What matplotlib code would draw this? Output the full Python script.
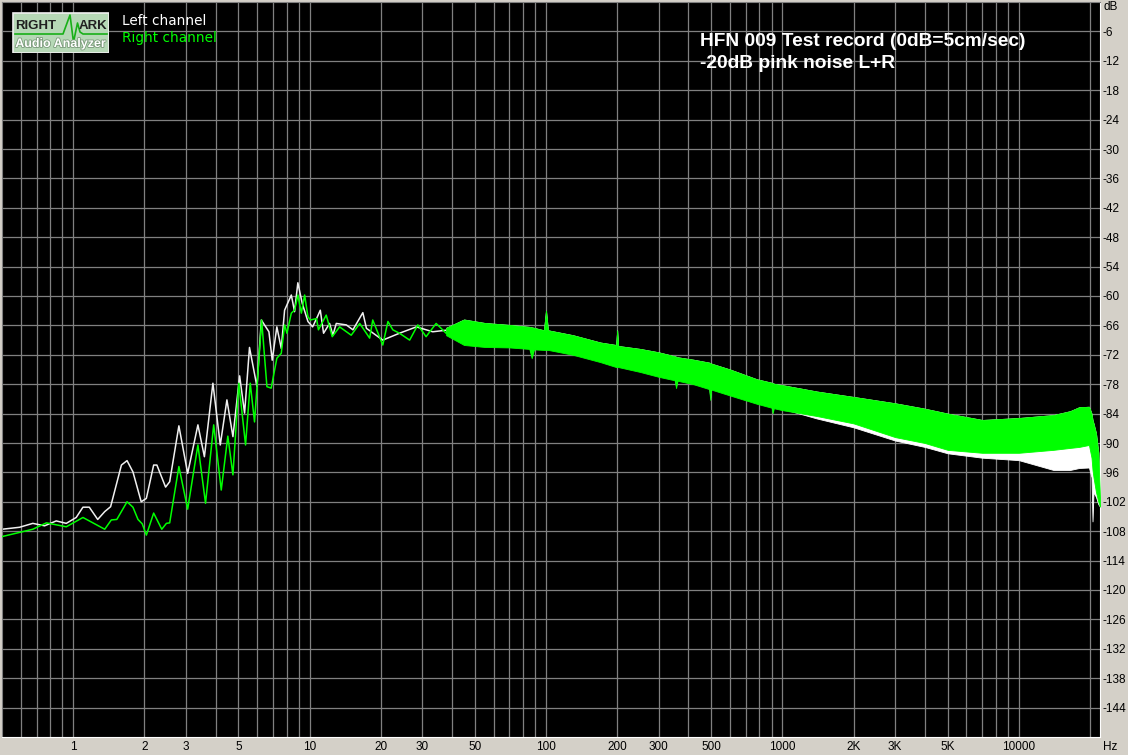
import numpy as np
import matplotlib
matplotlib.use('Agg')
import matplotlib.pyplot as plt
from matplotlib.ticker import NullLocator
from matplotlib import patheffects
from matplotlib.patches import Rectangle

plt.rcParams['font.family'] = ['Liberation Sans', 'DejaVu Sans']

# low frequency part, read point by point (Hz, dB)
left_f = [0.5, 0.593, 0.675, 0.757, 0.848, 0.935, 1.03, 1.10, 1.17, 1.27, 1.36, 1.44, 1.60, 1.69,
          1.79, 1.94, 2.04, 2.19, 2.26, 2.46, 2.56, 2.80, 3.05, 3.37, 3.59, 3.90, 4.19, 4.47, 4.74,
          5.06, 5.31, 5.57, 5.99, 6.25, 6.73, 6.95, 7.27, 7.59, 7.84, 8.37, 8.64, 8.92, 9.31, 9.84,
          10.3, 10.8, 11.1, 11.46, 12.15, 12.55, 12.97, 14.3, 15.25, 16.8, 17.4, 20.4, 24.0, 28.3,
          33.2, 39.1]
left_db = [-107.6, -107.2, -106.4, -106.9, -105.9, -106.4, -105.2, -103.1, -103.1, -105.6, -104.0,
           -103.0, -94.5, -93.6, -95.9, -102.0, -101.3, -94.5, -94.5, -99.0, -97.9, -86.5, -96.2,
           -86.3, -92.8, -77.8, -90.4, -81.2, -88.7, -76.3, -83.9, -70.5, -78.5, -64.9, -67.3, -73.1,
           -66.3, -70.7, -62.9, -59.8, -63.2, -57.3, -61.5, -65.2, -66.3, -64.2, -62.9, -67.6, -65.6,
           -68.0, -65.6, -65.9, -66.9, -63.4, -66.6, -69.0, -67.6, -66.3, -67.3, -66.9]

right_f = [0.5, 0.675, 0.770, 0.935, 1.10, 1.36, 1.45, 1.53, 1.69, 1.79, 1.88, 1.96, 2.04, 2.19,
           2.37, 2.48, 2.56, 2.80, 3.05, 3.37, 3.63, 3.93, 4.23, 4.51, 4.74, 5.02, 5.36, 5.61, 5.85,
           6.27, 6.60, 6.88, 7.27, 7.59, 7.84, 8.02, 8.37, 8.64, 8.92, 9.23, 9.53, 9.84, 10.07, 10.7,
           10.9, 11.76, 12.47, 13.4, 15.0, 16.3, 17.95, 18.5, 20.4, 21.45, 22.5, 24.0, 26.5, 28.7,
           31.1, 34.3, 37.8]
right_db = [-109.1, -107.6, -106.3, -107.1, -105.2, -107.6, -105.7, -105.6, -102.0, -103.1, -105.6,
            -106.5, -108.8, -104.3, -107.6, -106.4, -106.3, -94.8, -103.5, -90.4, -102.3, -86.3,
            -99.6, -88.6, -96.5, -77.8, -90.4, -77.8, -85.7, -64.9, -78.5, -78.8, -72.7, -71.7,
            -65.9, -67.6, -63.5, -62.9, -59.8, -63.5, -59.8, -64.2, -64.9, -64.6, -66.9, -63.9,
            -68.3, -66.3, -68.0, -65.6, -68.6, -64.9, -70.0, -65.2, -66.9, -67.6, -69.0, -65.9,
            -68.3, -65.6, -67.6]

# dense noise band above ~40 Hz, read as envelopes (Hz, dB)
band_f = [37.8, 45, 55, 70, 85, 87, 89, 98, 100, 102,
          130, 170, 198, 200, 202, 250, 300, 350, 355, 360,
          420, 490, 495, 500, 600, 780, 900, 910, 920, 1000,
          1400, 2000, 3000, 4000, 5000, 7000, 10000, 14000, 16500, 18000,
          19800, 20300, 20500, 20700, 21200, 21700, 22050]
right_top = [-66.5, -64.8, -65.5, -65.9, -66.3, -66.4, -66.5, -67.0, -63.0, -67.0,
             -68.0, -69.5, -70.0, -67.0, -70.2, -70.8, -71.5, -72.3, -72.4, -72.5,
             -73.0, -73.6, -73.7, -73.8, -75.0, -77.0, -77.7, -77.8, -77.9, -78.2,
             -79.5, -80.6, -81.9, -83.0, -84.0, -85.3, -84.9, -84.3, -83.5, -82.7,
             -82.6, -84.0, -85.3, -86.0, -88.0, -92.0, -101.5]
right_bot = [-68.0, -70.0, -70.4, -70.5, -70.8, -72.7, -70.9, -71.0, -71.0, -71.0,
             -72.0, -73.5, -74.5, -74.5, -74.5, -75.5, -76.5, -77.2, -78.8, -77.3,
             -78.0, -79.0, -81.2, -79.1, -80.3, -82.0, -82.8, -83.9, -82.9, -83.3,
             -84.5, -86.0, -88.8, -90.0, -91.4, -92.0, -92.0, -91.4, -91.0, -90.8,
             -90.4, -93.0, -95.5, -97.0, -100.0, -102.0, -103.0]
left_bot = [-67.5, -69.5, -69.9, -70.0, -70.3, -72.2, -70.4, -70.5, -70.5, -70.5,
            -71.5, -73.0, -74.0, -74.0, -74.0, -75.0, -76.0, -76.7, -78.3, -76.8,
            -77.5, -78.5, -80.7, -78.6, -79.8, -81.5, -82.3, -83.4, -82.4, -83.0,
            -85.0, -86.8, -89.5, -90.8, -92.1, -93.0, -93.5, -95.5, -95.5, -95.1,
            -95.0, -97.0, -106.0, -100.0, -101.0, -102.5, -103.0]

tick_pos = [1, 2, 3, 5, 10, 20, 30, 50, 100, 200, 300, 500, 1000, 2000, 3000, 5000, 10000]
tick_lab = ['1', '2', '3', '5', '10', '20', '30', '50', '100', '200', '300', '500', '1000',
            '2K', '3K', '5K', '10000']
db_ticks = list(range(-144, 0, 6))

W, H = 1128, 755
grid_c = '#808080'
green = '#00ff00'

fig = plt.figure(figsize=(W / 100, H / 100), dpi=100, facecolor='#d4d0c8')
ax = fig.add_axes([2 / W, 18 / H, 1098 / W, 735 / H], facecolor='black')
ax.set_xscale('log')
ax.set_xlim(0.5, 22050)
ax.set_ylim(-150, 0)

grid_x = [m * 10.0 ** e for e in range(-1, 5) for m in range(1, 10) if 0.5 < m * 10.0 ** e < 22050]
for gx in grid_x:
    ax.axvline(gx, color=grid_c, lw=0.9, zorder=0)
for gy in db_ticks:
    ax.axhline(gy, color=grid_c, lw=0.9, zorder=0)

ax.fill_between(band_f, right_top, left_bot, color='white', lw=0.6, zorder=2)
ax.plot(left_f, left_db, color='#f0f0f0', lw=1.1, zorder=2)
ax.fill_between(band_f, right_top, right_bot, color=green, lw=0.6, zorder=3)
ax.plot(right_f, right_db, color=green, lw=1.1, zorder=3)

ax.set_xticks(tick_pos, tick_lab)
ax.xaxis.set_minor_locator(NullLocator())
ax.set_yticks(db_ticks, [str(v) for v in db_ticks])
ax.yaxis.tick_right()
ax.tick_params(axis='both', length=0, labelsize=8.5, colors='black')
ax.tick_params(axis='x', pad=3)
ax.tick_params(axis='y', pad=2)
for s in ['left', 'top']:
    ax.spines[s].set_color(grid_c)
for s in ['right', 'bottom']:
    ax.spines[s].set_color('white')

fig.text(1103 / W, 1 - 7 / H, 'dB', fontsize=8.5, va='center', ha='left')
fig.text(1103 / W, 1 - 747 / H, 'Hz', fontsize=8.5, va='center', ha='left')

fig.text(700 / W, 1 - 42 / H, 'HFN 009 Test record (0dB=5cm/sec)', color='white',
         fontsize=13.8, fontweight='bold', va='center')
fig.text(700 / W, 1 - 64 / H, '-20dB pink noise L+R', color='white',
         fontsize=13.8, fontweight='bold', va='center')

fig.text(122 / W, 1 - 21 / H, 'Left channel', color='white', fontsize=9.8, va='center',
         family='DejaVu Sans')
fig.text(122 / W, 1 - 38 / H, 'Right channel', color=green, fontsize=9.8, va='center',
         family='DejaVu Sans')

# RightMark logo
lg = fig.add_axes([12 / W, 1 - 53 / H, 97 / W, 41 / H])
lg.set_xlim(0, 97)
lg.set_ylim(41, 0)
lg.axis('off')
lg.add_patch(Rectangle((0.5, 0.5), 96, 40, facecolor='#b6d8b6', edgecolor='#f0f0f0', lw=1.2))
lg.plot([3, 51, 58, 61.5, 65.5, 68, 71, 95], [22, 22, 3, 30, 11, 20, 22, 22], color='#18b018', lw=1.2)
lg.text(3, 14, 'RIGHT', fontsize=9.5, fontweight='bold', color='#202020', va='center', ha='left')
lg.text(95, 14, 'ARK', fontsize=9.5, fontweight='bold', color='#202020', va='center', ha='right')
lg.text(48.5, 32, 'Audio Analyzer', fontsize=9, fontweight='bold', color='white', va='center',
        ha='center', path_effects=[patheffects.withStroke(linewidth=1.2, foreground='#7a9a7a')])

fig.savefig('out.png', dpi=100, facecolor=fig.get_facecolor())
